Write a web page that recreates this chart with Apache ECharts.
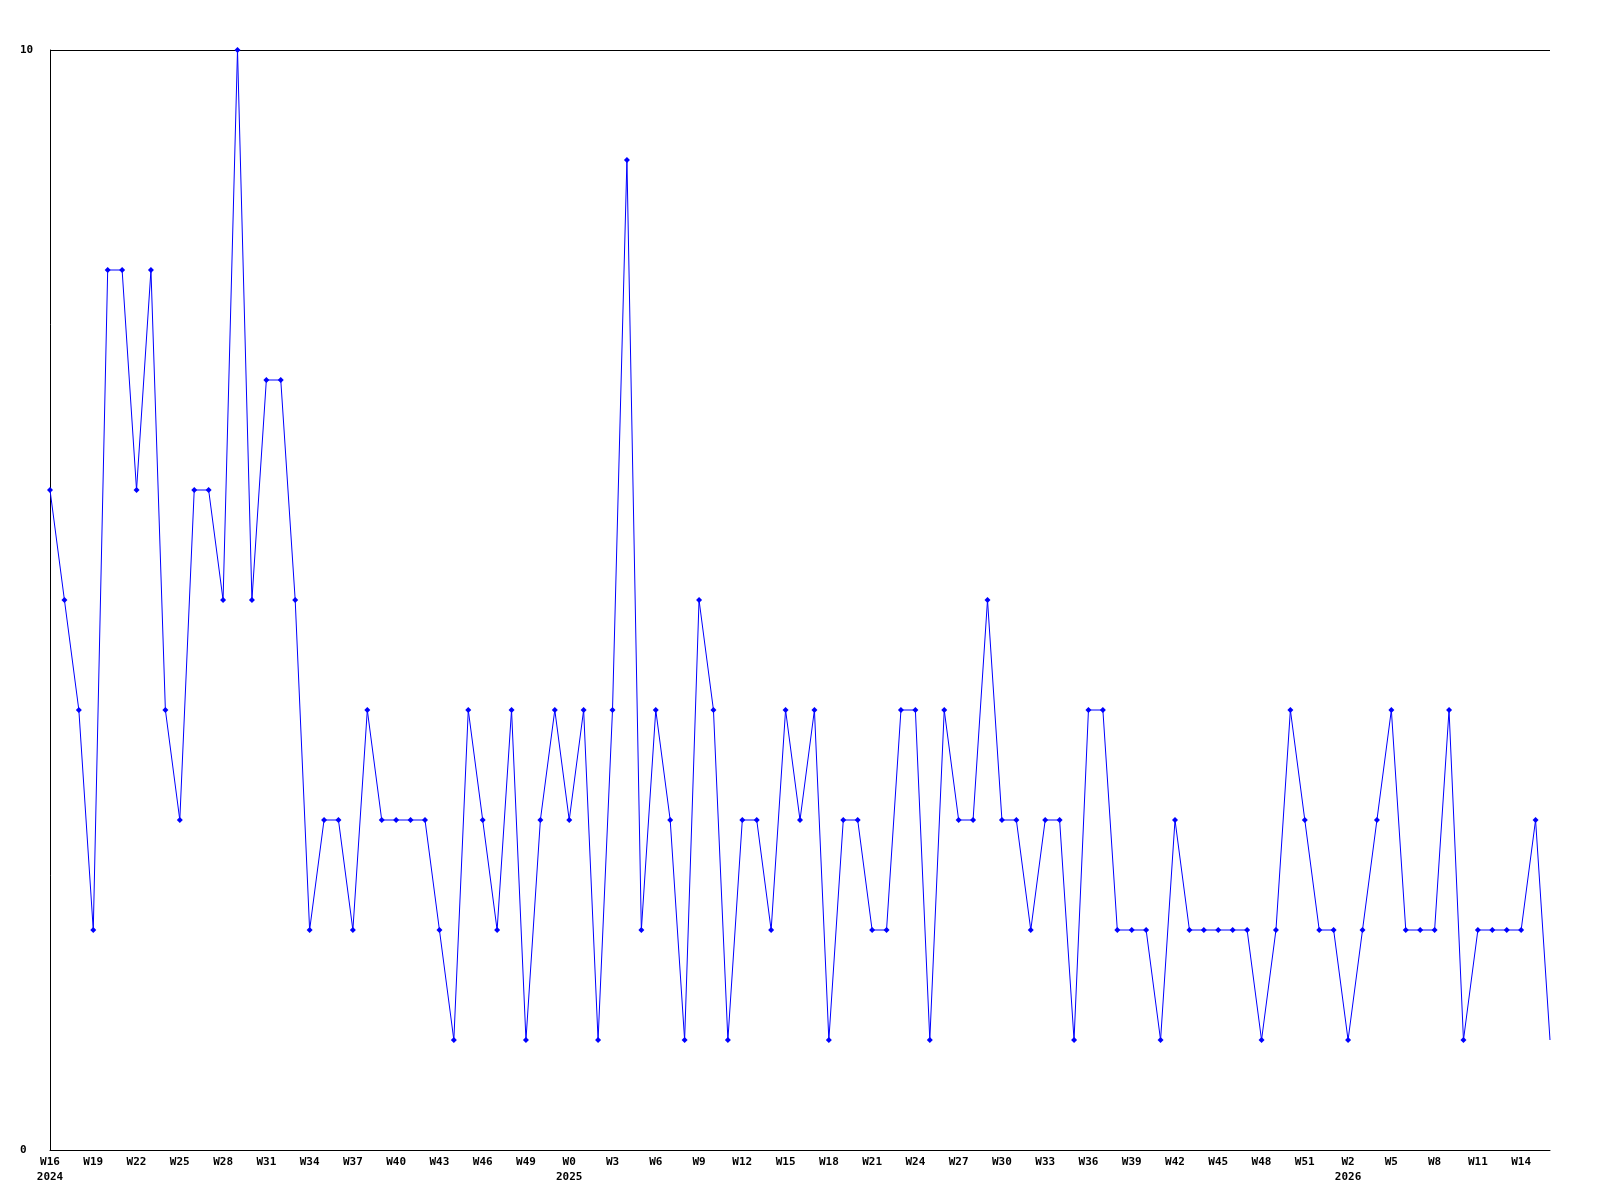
<!DOCTYPE html>
<html>
<head>
<meta charset="utf-8">
<script src="https://cdn.jsdelivr.net/npm/echarts@6/dist/echarts.min.js"></script>
<style>html,body{margin:0;padding:0;background:#fff}#c{width:1600px;height:1200px}</style>
</head>
<body>
<div id="c"></div>
<script>
// Week categories: 2024 W16..W51, 2025 W0..W52, 2026 W1..W16
const years = [];
const weeks = [];
for (let w = 16; w <= 51; w++) { years.push(2024); weeks.push(w); }
for (let w = 0; w <= 52; w++) { years.push(2025); weeks.push(w); }
for (let w = 1; w <= 16; w++) { years.push(2026); weeks.push(w); }
const categories = weeks.map((w, i) => years[i] + '-W' + w);

const values = [
  6, 5, 4, 2, 8, 8, 6, 8, 4, 3,
  6, 6, 5, 10, 5, 7, 7, 5, 2, 3,
  3, 2, 4, 3, 3, 3, 3, 2, 1, 4,
  3, 2, 4, 1, 3, 4, 3, 4, 1, 4,
  9, 2, 4, 3, 1, 5, 4, 1, 3, 3,
  2, 4, 3, 4, 1, 3, 3, 2, 2, 4,
  4, 1, 4, 3, 3, 5, 3, 3, 2, 3,
  3, 1, 4, 4, 2, 2, 2, 1, 3, 2,
  2, 2, 2, 2, 1, 2, 4, 3, 2, 2,
  1, 2, 3, 4, 2, 2, 2, 4, 1, 2,
  2, 2, 2, 3, 1
];

const yTicks = [0, 10];

const chart = echarts.init(document.getElementById('c'), null, {renderer: 'canvas'});
const font = {fontFamily: 'DejaVu Sans Mono', fontSize: 11, fontWeight: 'bold', color: '#000'};
const LABEL_STEP = 3;
chart.setOption({
  animation: false,
  backgroundColor: '#fff',
  grid: {left: 50, right: 50, top: 50, bottom: 50},
  xAxis: {
    type: 'category',
    data: categories,
    boundaryGap: false,
    axisLine: {lineStyle: {color: '#000', width: 1}},
    axisTick: {show: false},
    axisLabel: Object.assign({}, font, {
      interval: LABEL_STEP - 1,
      margin: 5,
      lineHeight: 15,
      formatter: function (val, idx) {
        const parts = val.split('-');
        const y = parts[0];
        let s = parts[1];
        let firstShown = true;
        for (let j = idx - LABEL_STEP; j >= 0; j -= LABEL_STEP) {
          if (String(years[j]) === y) { firstShown = false; break; }
        }
        if (firstShown) s += '\n' + y;
        return s;
      }
    }),
    splitLine: {show: false}
  },
  yAxis: {
    type: 'value',
    min: yTicks[0],
    max: yTicks[1],
    interval: 10,
    axisLine: {show: true, lineStyle: {color: '#000', width: 1}},
    axisTick: {show: false},
    axisLabel: Object.assign({}, font, {align: 'left', margin: 30}),
    splitLine: {show: true, lineStyle: {color: '#000', width: 1}}
  },
  series: [{
    type: 'line',
    data: values.map((v, i) => i === values.length - 1 ? {value: v, symbol: 'none'} : v),
    symbol: 'diamond',
    symbolSize: 6,
    showAllSymbol: true,
    lineStyle: {color: '#0000ff', width: 1},
    itemStyle: {color: '#0000ff'},
    clip: false
  }]
});
</script>
</body>
</html>
